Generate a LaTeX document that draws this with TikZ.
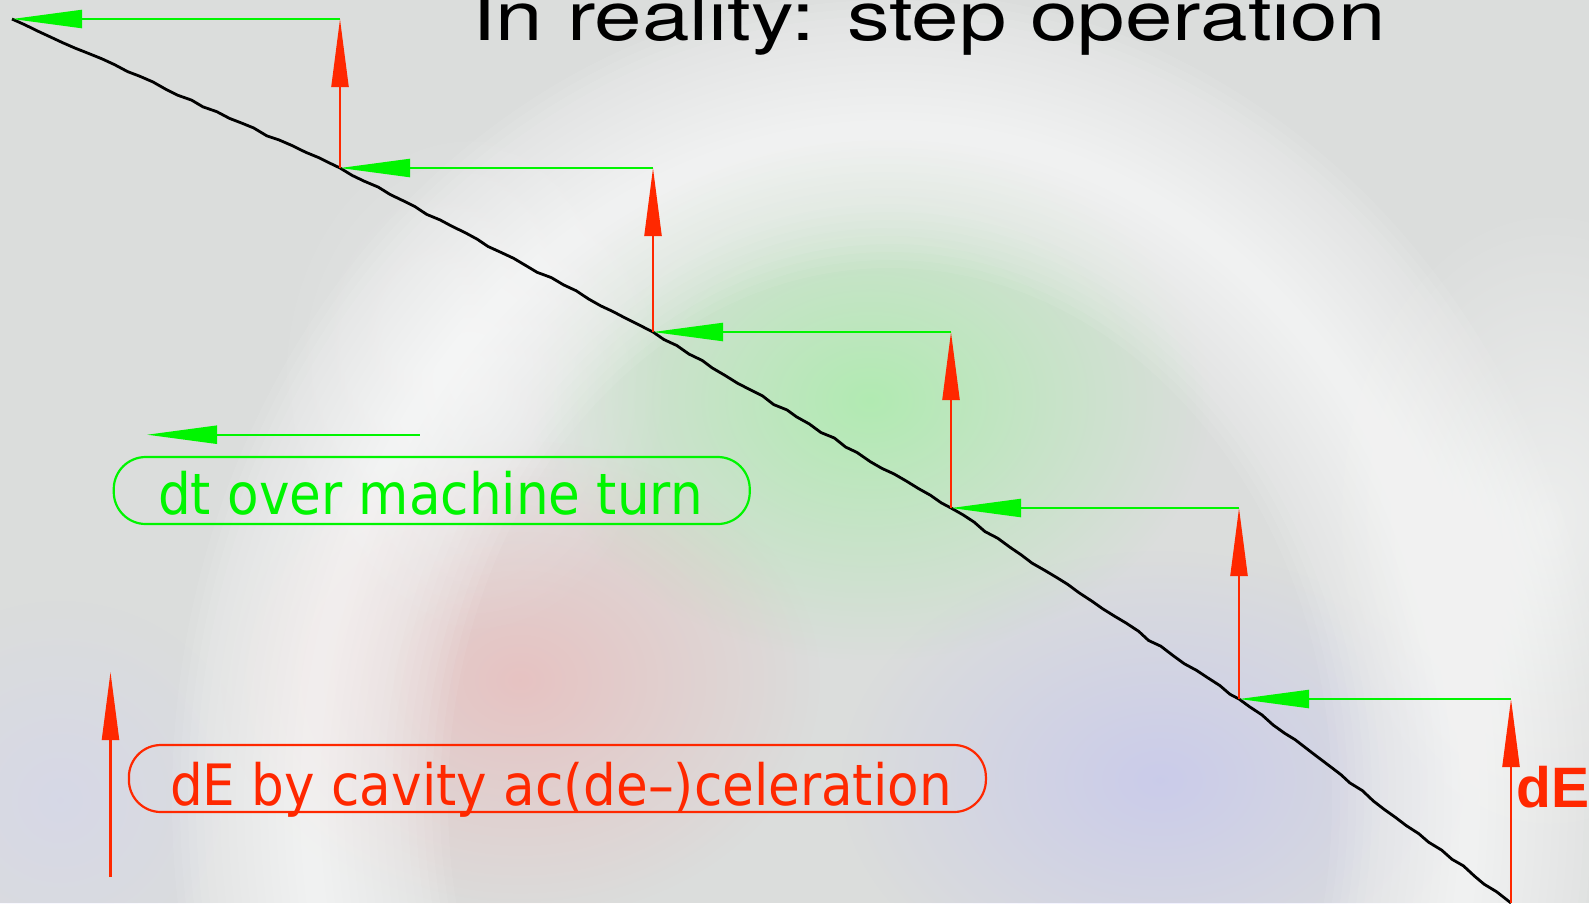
\documentclass[tikz,border=0pt]{standalone}
\usepackage{fontspec}
\usetikzlibrary{arrows.meta,fadings,decorations.pathmorphing}
\newfontfamily\titlefont[FakeStretch=1.255]{TeX Gyre Heros}
\newfontfamily\legfont[FakeStretch=0.905]{DejaVu Sans}
\newfontfamily\dEfont{Liberation Sans}
\definecolor{bg}{RGB}{219,221,220}
\definecolor{lgreen}{RGB}{0,245,0}
\definecolor{lred}{RGB}{255,40,0}
\tikzfading[name=softdisc, inner color=transparent!0, outer color=transparent!100]
\tikzset{
  garrow/.style={draw=lgreen, line width=2.2pt, -{Triangle[length=70pt,width=18pt]}},
  rarrow/.style={draw=lred, line width=2.2pt, -{Triangle[length=68pt,width=17pt]}},
  pathline/.style={draw=black, line width=2.8pt, line join=round,
    decorate, decoration={random steps, segment length=14pt, amplitude=1.2pt}},
  legbox/.style={draw=#1, line width=2.2pt, rounded corners=32pt, inner sep=0pt},
  legtext/.style={text=#1, inner sep=0pt, anchor=base, font=\legfont\fontsize{57}{60}\selectfont},
  glow/.style={fill=#1, path fading=softdisc}
}
\begin{document}
\begin{tikzpicture}[x=1pt,y=-1pt]
\pgfmathsetseed{11}
\useasboundingbox (0,0) rectangle (1589,903);
\fill[bg] (0,0) rectangle (1589,903);
% blurred watermark
\fill[glow=green!55!white, fill opacity=0.4] (870,400) ellipse (340 and 260);
\fill[glow=red!45!white, fill opacity=0.32] (520,680) ellipse (300 and 240);
\fill[glow=blue!30!white, fill opacity=0.4] (1160,780) ellipse (320 and 230);
\fill[glow=white, fill opacity=0.5] (1550,520) ellipse (220 and 320);
\fill[glow=blue!20!white, fill opacity=0.3] (60,800) ellipse (200 and 200);
\foreach \w in {20,36,...,276}
  \draw[white, line width=\w pt, opacity=0.07] (890,800) ellipse (580 and 670);
\fill[glow=white, fill opacity=0.35] (470,380) ellipse (200 and 260);
% step points and corners
\coordinate (p0) at (12,19);
\coordinate (p1) at (340,168);
\coordinate (p2) at (653,332);
\coordinate (p3) at (951,508);
\coordinate (p4) at (1239,699);
\coordinate (p5) at (1511,903);
\coordinate (c1) at (340,19);
\coordinate (c2) at (653,168);
\coordinate (c3) at (951,332);
\coordinate (c4) at (1239,508);
\coordinate (c5) at (1511,699);
% black real trajectory
\draw[pathline] (p0) -- (p1) -- (p2) -- (p3) -- (p4) -- (p5);
% green: dt over machine turn
\draw[garrow] (c1) -- (p0);
\draw[garrow] (c2) -- (p1);
\draw[garrow] (c3) -- (p2);
\draw[garrow] (c4) -- (p3);
\draw[garrow] (c5) -- (p4);
% red: dE
\draw[rarrow] (p1) -- (c1);
\draw[rarrow] (p2) -- (c2);
\draw[rarrow] (p3) -- (c3);
\draw[rarrow] (p4) -- (c4);
\draw[rarrow] (p5) -- (c5);
% title
\node[anchor=base west, inner sep=0pt, font=\titlefont\fontsize{68}{74}\selectfont] (title) at (472,40.7) {In reality: step operation};
% dE label
\node[anchor=base west, inner sep=0pt, text=lred, font=\dEfont\bfseries\fontsize{57}{60}\selectfont] (dE) at (1516,807.7) {dE};
% legend green
\coordinate (lg1) at (419.5,434.7);
\coordinate (lg0) at (147,434.7);
\draw[garrow] (lg1) -- (lg0);
\node[legbox=lgreen, minimum width=636pt, minimum height=67pt] (dtbox) at (431.75,490.5) {};
\node[legtext=lgreen] (dttext) at (430.5,514) {dt over machine turn};
% legend red
\coordinate (lr0) at (110.5,877);
\coordinate (lr1) at (110.5,672);
\draw[rarrow] (lr0) -- (lr1);
\node[legbox=lred, minimum width=857pt, minimum height=67pt] (dEbox) at (557.4,778.5) {};
\node[legtext=lred] (dEtext) at (560.9,805) {dE by cavity ac(de–)celeration};
\end{tikzpicture}
\end{document}
